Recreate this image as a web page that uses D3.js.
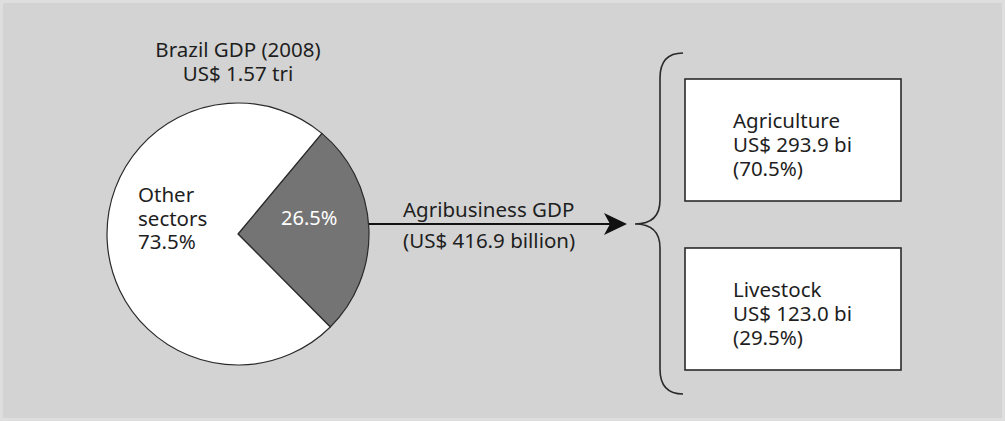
<!DOCTYPE html>
<html>
<head>
<meta charset="utf-8">
<script src="https://cdn.jsdelivr.net/npm/d3@7"></script>
<style>
  html, body { margin: 0; padding: 0; background: #ffffff; }
  svg { display: block; }
  text { font-family: "Noto Sans", "Open Sans", sans-serif; fill: #1e1e1e; }
</style>
</head>
<body>
<script>
// GDP split, Brazil 2008
const sectors = ["Agribusiness", "Other sectors"];
const sectorShares = [26.5, 73.5];
const sectorColors = ["#747474", "#ffffff"];

const totalTitle = ["Brazil GDP (2008)", "US$ 1.57 tri"];
const arrowLabel = ["Agribusiness GDP", "(US$ 416.9 billion)"];

// Agribusiness breakdown
const segments = ["Agriculture", "Livestock"];
const segmentValues = [293.9, 123.0];
const segmentShares = [70.5, 29.5];

const W = 1005, H = 421;
const svg = d3.select("body").append("svg").attr("width", W).attr("height", H);

// panel background
svg.append("rect").attr("x", 0).attr("y", 0).attr("width", W).attr("height", H).attr("fill", "#dedede");
svg.append("rect").attr("x", 3).attr("y", 3).attr("width", W - 6).attr("height", H - 6).attr("fill", "#d3d3d3");

// ---- pie ----
const cx = 238, cy = 234, R = 131;
const deg = Math.PI / 180;
const gray = sectorShares[0] / 100 * 2 * Math.PI;
const mid = 87.5 * deg; // agribusiness slice faces the arrow
const pie = d3.pie().sort(null).value(d => d)
  .startAngle(mid - gray / 2).endAngle(mid - gray / 2 + 2 * Math.PI);
const arc = d3.arc().innerRadius(0).outerRadius(R);

const pg = svg.append("g").attr("transform", `translate(${cx},${cy})`);
pg.selectAll("path").data(pie(sectorShares)).join("path")
  .attr("d", arc)
  .attr("fill", (d, i) => sectorColors[i])
  .attr("stroke", "#2a2a2a")
  .attr("stroke-width", 1.2)
  .attr("stroke-linejoin", "round");

// slice labels
pg.append("text").attr("x", 43).attr("y", -9)
  .attr("font-size", 20).attr("style", "fill:#ffffff")
  .text(d3.format(".1f")(sectorShares[0]) + "%");

const other = pg.append("text").attr("x", -100).attr("y", -32).attr("font-size", 20.5);
["Other", "sectors", d3.format(".1f")(sectorShares[1]) + "%"].forEach((t, i) => {
  other.append("tspan").attr("x", -100).attr("dy", i ? 23.6 : 0).text(t);
});

// title above pie
const title = svg.append("text").attr("text-anchor", "middle").attr("font-size", 20.5);
totalTitle.forEach((t, i) => {
  title.append("tspan").attr("x", cx).attr("y", 57 + i * 23.5).text(t);
});

// ---- arrow ----
const ay = 224, ax0 = cx + R, ax1 = 627;
svg.append("line").attr("x1", ax0).attr("x2", ax1 - 12).attr("y1", ay).attr("y2", ay)
  .attr("stroke", "#111").attr("stroke-width", 2.2);
svg.append("path")
  .attr("d", `M${ax1},${ay} L${ax1 - 23},${ay - 11} L${ax1 - 17},${ay} L${ax1 - 23},${ay + 11} Z`)
  .attr("fill", "#111");

const al = svg.append("text").attr("font-size", 20.5);
arrowLabel.forEach((t, i) => {
  al.append("tspan").attr("x", 403).attr("y", 216.5 + i * 31.5).text(t);
});

// ---- breakdown boxes ----
const y = d3.scaleBand().domain(segments).range([79, 370]).paddingInner(0.278);
const bx = 685, bw = 216;

// curly brace spanning the boxes
const bTop = y(segments[0]) - 26, bBot = y(segments[1]) + y.bandwidth() + 24;
const vx = 660, tipX = 635, endX = 683;
svg.append("path")
  .attr("d", `M${endX},${bTop} Q${vx},${bTop} ${vx},${bTop + 25} L${vx},${ay - 24} Q${vx},${ay} ${tipX},${ay}` +
             ` Q${vx},${ay} ${vx},${ay + 24} L${vx},${bBot - 25} Q${vx},${bBot} ${endX},${bBot}`)
  .attr("fill", "none").attr("stroke", "#2a2a2a").attr("stroke-width", 1.6);

const boxes = svg.selectAll("g.box").data(segments).join("g")
  .attr("class", "box")
  .attr("transform", d => `translate(${bx},${y(d)})`);
boxes.append("rect").attr("width", bw).attr("height", y.bandwidth())
  .attr("fill", "#ffffff").attr("stroke", "#2a2a2a").attr("stroke-width", 1.6);
boxes.each(function (d, i) {
  const t = d3.select(this).append("text").attr("font-size", 20.5);
  [d, "US$ " + d3.format(".1f")(segmentValues[i]) + " bi", "(" + d3.format(".1f")(segmentShares[i]) + "%)"]
    .forEach((s, k) => t.append("tspan").attr("x", 48).attr("y", 49 + k * 24).text(s));
});
</script>
</body>
</html>
